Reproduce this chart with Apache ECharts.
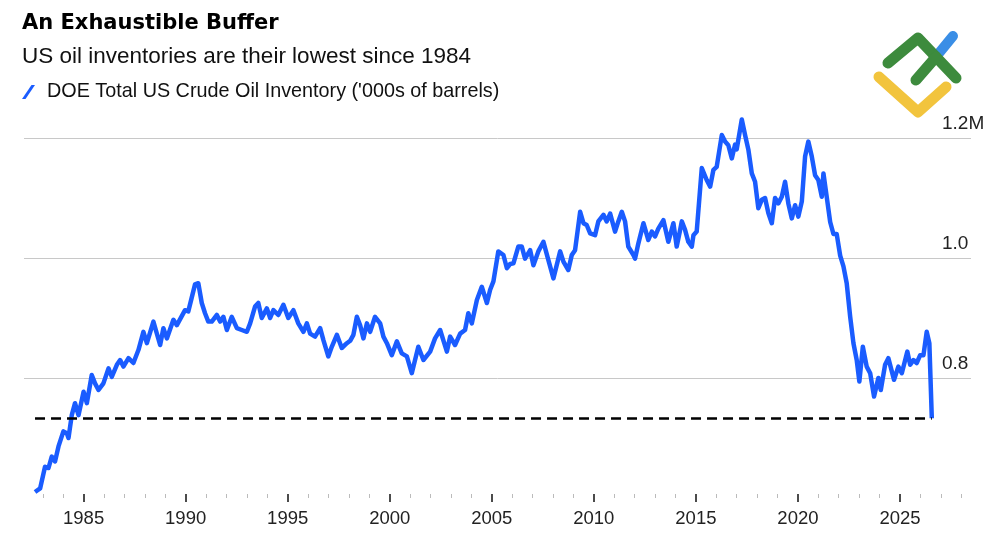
<!DOCTYPE html>
<html>
<head>
<meta charset="utf-8">
<script src="https://cdn.jsdelivr.net/npm/echarts@6/dist/echarts.min.js"></script>
<style>
  html, body { margin: 0; padding: 0; background: #fff; }
  #main { width: 1000px; height: 545px; }
</style>
</head>
<body>
<div id="main"></div>
<script>
// decimal year of each reading
var years = [
  1982.62, 1982.87, 1983.11, 1983.28, 1983.44, 1983.60, 1983.77, 1984.01, 1984.18, 1984.26,
  1984.42, 1984.58, 1984.75, 1985.00, 1985.16, 1985.40, 1985.56, 1985.73, 1985.97, 1986.22,
  1986.38, 1986.63, 1986.79, 1986.95, 1987.20, 1987.44, 1987.69, 1987.93, 1988.10, 1988.42,
  1988.75, 1988.91, 1989.08, 1989.40, 1989.57, 1989.97, 1990.13, 1990.46, 1990.62,
  1990.79, 1990.95, 1991.11, 1991.28, 1991.53, 1991.69, 1991.85, 1992.02, 1992.26, 1992.51,
  1992.75, 1993.00, 1993.16, 1993.40, 1993.56, 1993.73, 1993.98, 1994.14, 1994.30, 1994.54,
  1994.79, 1995.03, 1995.28, 1995.52, 1995.77, 1995.94, 1996.10, 1996.34, 1996.59, 1996.75,
  1996.99, 1997.16, 1997.41, 1997.65, 1997.90,
  1998.06, 1998.22, 1998.39, 1998.55, 1998.71, 1998.88, 1999.04, 1999.28, 1999.53, 1999.69,
  1999.86, 2000.10, 2000.35, 2000.59, 2000.84, 2001.08, 2001.16, 2001.40, 2001.65, 2001.98,
  2002.22, 2002.47, 2002.80, 2002.96, 2003.20, 2003.45, 2003.69, 2003.85, 2004.02, 2004.27,
  2004.51, 2004.76, 2004.92, 2005.08, 2005.32, 2005.57, 2005.74, 2005.90,
  2006.06, 2006.30, 2006.47, 2006.63, 2006.88, 2007.04, 2007.28, 2007.53, 2007.77, 2008.02,
  2008.35, 2008.51, 2008.75, 2008.92, 2009.08, 2009.33, 2009.49, 2009.65, 2009.82, 2010.06,
  2010.22, 2010.47, 2010.63, 2010.80, 2011.04, 2011.20, 2011.37, 2011.53, 2011.69, 2011.94,
  2012.02, 2012.18, 2012.43, 2012.67, 2012.84, 2013.00, 2013.16, 2013.41, 2013.65, 2013.90,
  2014.06, 2014.23,
  2014.31, 2014.47, 2014.63, 2014.80, 2014.88, 2015.04, 2015.29, 2015.53, 2015.70, 2015.86,
  2016.02, 2016.27, 2016.43, 2016.59, 2016.76, 2016.92, 2017.00, 2017.25, 2017.41, 2017.57,
  2017.74, 2017.90, 2018.06, 2018.23, 2018.39, 2018.55, 2018.72, 2018.88, 2019.04, 2019.21,
  2019.37, 2019.53, 2019.70, 2019.86, 2020.02, 2020.19, 2020.35, 2020.51, 2020.68, 2020.84,
  2021.00, 2021.17, 2021.25, 2021.41, 2021.58, 2021.74, 2021.90,
  2022.07, 2022.23, 2022.39, 2022.56, 2022.72, 2022.88, 2023.01, 2023.18, 2023.37, 2023.54,
  2023.73, 2023.94, 2024.06, 2024.27, 2024.43, 2024.71, 2024.92, 2025.09, 2025.36, 2025.50,
  2025.66, 2025.82, 2025.99, 2026.15, 2026.31, 2026.44, 2026.56
];

// inventory, in thousands of '000 barrels (1231 = 1.231M)
var inventory = [
  610, 616, 652, 650, 669, 661, 686, 711, 708, 700,
  738, 758, 738, 777, 758, 805, 791, 780, 791, 816,
  802, 822, 830, 819, 833, 825, 847, 877, 858, 894,
  855, 883, 866, 897, 888, 913, 911, 956, 958,
  925, 908, 894, 894, 905, 894, 902, 880, 902, 883,
  880, 877, 891, 919, 925, 900, 916, 900, 913, 905,
  922, 900, 913, 891, 877, 891, 874, 869, 883, 863,
  836, 852, 872, 850, 858,
  862, 872, 902, 888, 866, 891, 877, 902, 891, 869,
  858, 838, 861, 841, 836, 808, 805, 852, 830, 844,
  866, 880, 844, 869, 855, 874, 880, 908, 891, 930,
  952, 925, 947, 961, 1011, 1005, 983, 990,
  991, 1019, 1019, 999, 1013, 988, 1011, 1027, 997, 966,
  1011, 994, 980, 1005, 1013, 1077, 1058, 1055, 1041, 1038,
  1061, 1072, 1061, 1074, 1044, 1061, 1077, 1061, 1019, 1005,
  999, 1024, 1058, 1030, 1044, 1036, 1049, 1063, 1027, 1058,
  1019, 1047,
  1061, 1047, 1027, 1019, 1038, 1044, 1150, 1130, 1119, 1147,
  1152, 1205, 1194, 1188, 1166, 1189, 1181, 1231, 1205, 1181,
  1141, 1127, 1083, 1097, 1100, 1075, 1058, 1100, 1091, 1102,
  1127, 1091, 1066, 1088, 1069, 1094, 1169, 1194, 1169, 1138,
  1130, 1102, 1141, 1102, 1060, 1040, 1040,
  1004, 986, 958, 902, 858, 830, 794, 852, 819, 808,
  769, 800, 780, 822, 833, 797, 819, 808, 844, 822,
  830, 825, 838, 838, 877, 858, 733
];

var majorYears = [1985, 1990, 1995, 2000, 2005, 2010, 2015, 2020, 2025];
var minorYears = [];
for (var y = 1983; y <= 2028; y++) { if (y % 5 !== 0) minorYears.push(y); }

var floorLevel = 733; // latest reading, lowest since 1984
var seriesName = "DOE Total US Crude Oil Inventory ('000s of barrels)";

var seriesData = years.map(function (yr, i) { return [yr, inventory[i]]; });

var chart = echarts.init(document.getElementById('main'));
var sans = '"Liberation Sans", Arial, sans-serif';

var option = {
  animation: false,
  backgroundColor: '#fff',
  title: [
    {
      text: 'An Exhaustible Buffer',
      left: 17, top: 8,
      textStyle: { fontFamily: '"DejaVu Sans", sans-serif', fontWeight: 'bold', fontSize: 21, color: '#000' }
    },
    {
      text: 'US oil inventories are their lowest since 1984',
      left: 17, top: 40,
      textStyle: { fontFamily: sans, fontWeight: 'normal', fontSize: 22.5, color: '#111' }
    }
  ],
  legend: {
    left: 17, top: 77,
    icon: 'path://M0,14 L3.5,14 L13,0 L9.5,0 Z',
    itemWidth: 13, itemHeight: 14,
    textStyle: { fontFamily: sans, fontSize: 19.8, color: '#111', padding: [0, 0, 0, 7] },
    data: [seriesName]
  },
  grid: { left: 24, right: 29, top: 108, bottom: 47 },
  xAxis: [
    {
      type: 'value', position: 'bottom', offset: -4,
      min: 1982.08, max: 2028.48,
      axisLine: { show: false },
      splitLine: { show: false },
      axisTick: { show: true, customValues: majorYears, length: 8, lineStyle: { color: '#111', width: 1.5 } },
      axisLabel: {
        customValues: majorYears, margin: 15,
        fontFamily: sans, fontSize: 18.5, color: '#222',
        formatter: function (v) { return String(Math.round(v)); }
      }
    },
    {
      type: 'value', position: 'bottom', offset: -4,
      min: 1982.08, max: 2028.48,
      axisLine: { show: false },
      splitLine: { show: false },
      axisTick: { show: true, customValues: minorYears, length: 4, lineStyle: { color: '#bbb', width: 1 } },
      axisLabel: { show: false }
    }
  ],
  yAxis: {
    type: 'value', position: 'right',
    min: 600, max: 1250, interval: 200,
    axisLine: { show: false },
    axisTick: { show: false },
    splitLine: { show: true, showMinLine: false, showMaxLine: false, lineStyle: { color: '#c8c8c8', width: 1 } },
    axisLabel: {
      showMinLabel: false, showMaxLabel: false,
      margin: -29, align: 'left', verticalAlign: 'bottom', padding: [0, 0, 5, 0],
      fontFamily: sans, fontSize: 19, color: '#222',
      formatter: function (v) {
        var s = (v / 1000).toFixed(1);
        return v >= 1200 ? s + 'M' : s;
      }
    }
  },
  series: [
    {
      name: seriesName,
      type: 'line',
      xAxisIndex: 0,
      data: seriesData,
      showSymbol: false,
      symbol: 'none',
      color: '#1a5cff',
      lineStyle: { color: '#1a5cff', width: 4.5, join: 'round' },
      z: 3,
      markLine: {
        silent: true,
        symbol: 'none',
        label: { show: false },
        lineStyle: { color: '#000', width: 2.5, type: [10, 6] },
        data: [[
          { coord: [years[0], floorLevel] },
          { coord: [years[years.length - 1], floorLevel] }
        ]]
      }
    }
  ],
  graphic: [
    { type: 'polyline', shape: { points: [[879, 77], [918, 112], [946, 87]] },
      style: { stroke: '#f2c43d', lineWidth: 11, lineCap: 'round', lineJoin: 'round', fill: null } },
    { type: 'line', shape: { x1: 935, y1: 58, x2: 953, y2: 36 },
      style: { stroke: '#3a8ee6', lineWidth: 10, lineCap: 'round' } },
    { type: 'polyline', shape: { points: [[888, 63], [918, 38], [956, 78]] },
      style: { stroke: '#3d8b3d', lineWidth: 11, lineCap: 'round', lineJoin: 'round', fill: null } },
    { type: 'line', shape: { x1: 916, y1: 80, x2: 936, y2: 57 },
      style: { stroke: '#3d8b3d', lineWidth: 11, lineCap: 'round' } }
  ]
};

chart.setOption(option);
</script>
</body>
</html>
